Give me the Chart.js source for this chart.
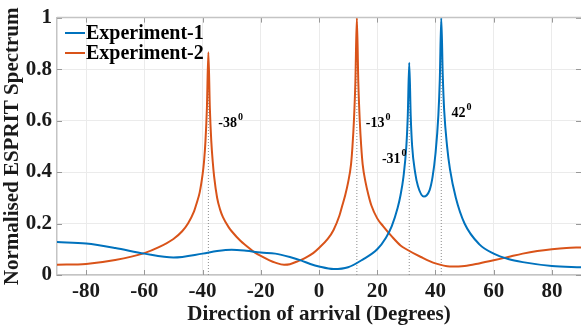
<!DOCTYPE html>
<html>
<head>
<meta charset="utf-8">
<script src="https://cdn.jsdelivr.net/npm/chart.js@4.4.1/dist/chart.umd.min.js"></script>
<style>
  html, body { margin: 0; padding: 0; background: #fff; overflow: hidden; }
  #wrap { width: 581px; height: 327px; }
</style>
</head>
<body>
<div id="wrap"><canvas id="js--esprit" width="581" height="327"></canvas></div>
<script>
// Experiment-1 (blue)
const exp1Angles = [-90, -80, -70, -60, -50, -40, -35, -30, -25, -20, -15, -10, -6, -3, 0, 5, 10, 15, 20, 23, 25, 27, 28, 29, 30, 30.5, 31, 31.5, 32, 33, 34, 36, 38, 39, 40, 41, 41.5, 42, 42.5, 43, 44, 45, 47, 50, 55, 60, 65, 70, 80, 90];
const exp1Values = [0.128, 0.122, 0.105, 0.083, 0.068, 0.083, 0.093, 0.098, 0.094, 0.087, 0.083, 0.07, 0.056, 0.043, 0.033, 0.023, 0.03, 0.06, 0.1, 0.145, 0.19, 0.26, 0.31, 0.38, 0.5, 0.62, 0.825, 0.62, 0.5, 0.4, 0.345, 0.305, 0.33, 0.38, 0.47, 0.62, 0.76, 1.0, 0.78, 0.64, 0.5, 0.41, 0.3, 0.2, 0.12, 0.083, 0.062, 0.05, 0.035, 0.03];

// Experiment-2 (orange)
const exp2Angles = [-90, -80, -70, -60, -55, -50, -47, -45, -43, -42, -41, -40, -39.5, -39, -38.5, -38, -37.5, -37, -36.5, -36, -35, -34, -33, -31, -30, -27, -25, -22, -20, -17, -15, -12, -10, -7, -5, -2, 0, 3, 5, 7, 8, 9, 10, 11, 11.5, 12, 12.5, 13, 13.5, 14, 14.5, 15, 16, 17, 18, 20, 22, 25, 28, 30, 35, 40, 45, 50, 55, 60, 65, 70, 75, 80, 85, 90];
const exp2Values = [0.04, 0.043, 0.058, 0.085, 0.108, 0.14, 0.17, 0.2, 0.245, 0.28, 0.32, 0.39, 0.44, 0.52, 0.65, 0.865, 0.65, 0.52, 0.44, 0.38, 0.3, 0.255, 0.225, 0.185, 0.17, 0.133, 0.114, 0.087, 0.074, 0.057, 0.048, 0.04, 0.042, 0.055, 0.065, 0.085, 0.105, 0.14, 0.175, 0.23, 0.27, 0.31, 0.36, 0.43, 0.5, 0.6, 0.75, 1.0, 0.75, 0.6, 0.5, 0.43, 0.36, 0.31, 0.27, 0.22, 0.19, 0.15, 0.115, 0.1, 0.07, 0.045, 0.033, 0.035, 0.045, 0.057, 0.07, 0.083, 0.093, 0.1, 0.105, 0.107];

// estimated directions (dotted markers) and their labels
const doaAngles = [-38, 13, 31, 42];
const doaHeights = [0.865, 1.0, 0.825, 1.0];
const doaLabels = ['-38', '-13', '-31', '42'];
const doaLabelX = [-34.6, 16.1, 21.6, 45.5];
const doaLabelY = [0.595, 0.595, 0.455, 0.635];

const xTicks = [-80, -60, -40, -20, 0, 20, 40, 60, 80];
const yTicks = [0, 0.2, 0.4, 0.6, 0.8, 1];

const blue = '#0072BD';
const orange = '#D95319';
const serif = "'Liberation Serif', 'Times New Roman', serif";

function toPoints(xs, ys) {
    return xs.map((x, i) => ({ x: x, y: ys[i] }));
}

const datasets = [
    {
        label: 'Experiment-1',
        data: toPoints(exp1Angles, exp1Values),
        borderColor: blue,
        borderWidth: 2,
        pointRadius: 0,
        cubicInterpolationMode: 'monotone'
    },
    {
        label: 'Experiment-2',
        data: toPoints(exp2Angles, exp2Values),
        borderColor: orange,
        borderWidth: 2,
        pointRadius: 0,
        cubicInterpolationMode: 'monotone'
    }
];

doaAngles.forEach((a, i) => {
    datasets.push({
        label: 'doa',
        data: [{ x: a, y: 0 }, { x: a, y: doaHeights[i] }],
        borderColor: '#8c8c8c',
        borderWidth: 1,
        borderDash: [1, 2],
        pointRadius: 0,
        order: 5
    });
});

// legend, labels and inward tick marks
const decorations = {
    id: 'decorations',
    afterDatasetsDraw(chart) {
        const ctx = chart.ctx;
        const xs = chart.scales.x, ys = chart.scales.y;
        const area = chart.chartArea;

        ctx.save();
        // inward tick marks
        ctx.strokeStyle = '#999';
        ctx.lineWidth = 1;
        ctx.beginPath();
        xTicks.forEach(v => {
            const px = Math.round(xs.getPixelForValue(v)) + 0.5;
            ctx.moveTo(px, area.top); ctx.lineTo(px, area.top + 5);
            ctx.moveTo(px, area.bottom); ctx.lineTo(px, area.bottom - 5);
        });
        yTicks.forEach(v => {
            const py = Math.round(ys.getPixelForValue(v)) + 0.5;
            ctx.moveTo(area.left, py); ctx.lineTo(area.left + 5, py);
            ctx.moveTo(area.right, py); ctx.lineTo(area.right - 5, py);
        });
        ctx.stroke();

        // top border
        ctx.strokeStyle = '#c4c4c4';
        ctx.lineWidth = 1.5;
        ctx.beginPath();
        ctx.moveTo(area.left, area.top);
        ctx.lineTo(area.right, area.top);
        ctx.stroke();

        // direction labels with superscript 0
        ctx.fillStyle = '#000';
        ctx.textBaseline = 'middle';
        ctx.textAlign = 'left';
        doaLabels.forEach((t, i) => {
            const px = xs.getPixelForValue(doaLabelX[i]);
            const py = ys.getPixelForValue(doaLabelY[i]);
            ctx.font = 'bold 14px ' + serif;
            ctx.fillText(t, px, py + 2);
            const w = ctx.measureText(t).width;
            ctx.font = 'bold 10px ' + serif;
            ctx.fillText('0', px + w + 1, py - 4);
        });

        // legend
        const items = [['Experiment-1', blue], ['Experiment-2', orange]];
        ctx.font = 'bold 20px ' + serif;
        items.forEach((it, i) => {
            const y = 33 + i * 20;
            ctx.strokeStyle = it[1];
            ctx.lineWidth = 2;
            ctx.beginPath();
            ctx.moveTo(65, y); ctx.lineTo(85, y);
            ctx.stroke();
            ctx.fillStyle = '#000';
            ctx.fillText(it[0], 86, y + 1);
        });
        ctx.restore();
    }
};

const config = {
    type: 'line',
    data: { datasets: datasets },
    options: {
        responsive: false,
        animation: false,
        devicePixelRatio: 1,
        layout: { padding: { top: 12, right: 0, left: 0, bottom: 0 } },
        plugins: {
            legend: { display: false },
            tooltip: { enabled: false }
        },
        scales: {
            x: {
                type: 'linear',
                min: -90,
                max: 90,
                afterBuildTicks: s => { s.ticks = xTicks.map(v => ({ value: v })); },
                afterFit: s => { s.height = 52; },
                grid: { color: '#ebebeb', drawTicks: false },
                border: { color: '#c4c4c4', width: 1.5 },
                ticks: {
                    padding: 4,
                    color: '#1a1a1a',
                    font: { family: serif, size: 21, weight: 'bold' },
                    maxRotation: 0
                },
                title: {
                    display: true,
                    text: 'Direction of arrival (Degrees)',
                    color: '#1a1a1a',
                    font: { family: serif, size: 21, weight: 'bold' },
                    padding: { top: 0, bottom: 0 }
                }
            },
            y: {
                min: 0,
                max: 1,
                afterBuildTicks: s => { s.ticks = yTicks.map(v => ({ value: v })); },
                afterFit: s => { s.width = 57; },
                grid: { color: '#ebebeb', drawTicks: false },
                border: { color: '#c4c4c4', width: 1.5 },
                ticks: {
                    padding: 5,
                    color: '#1a1a1a',
                    font: { family: serif, size: 21, weight: 'bold' },
                    callback: v => String(v)
                },
                title: {
                    display: true,
                    text: 'Normalised ESPRIT Spectrum',
                    color: '#1a1a1a',
                    font: { family: serif, size: 21, weight: 'bold' },
                    padding: { top: 0, bottom: 0 }
                }
            }
        }
    },
    plugins: [decorations]
};

const espritChart = new Chart(document.getElementById('js--esprit'), config);
</script>
</body>
</html>
